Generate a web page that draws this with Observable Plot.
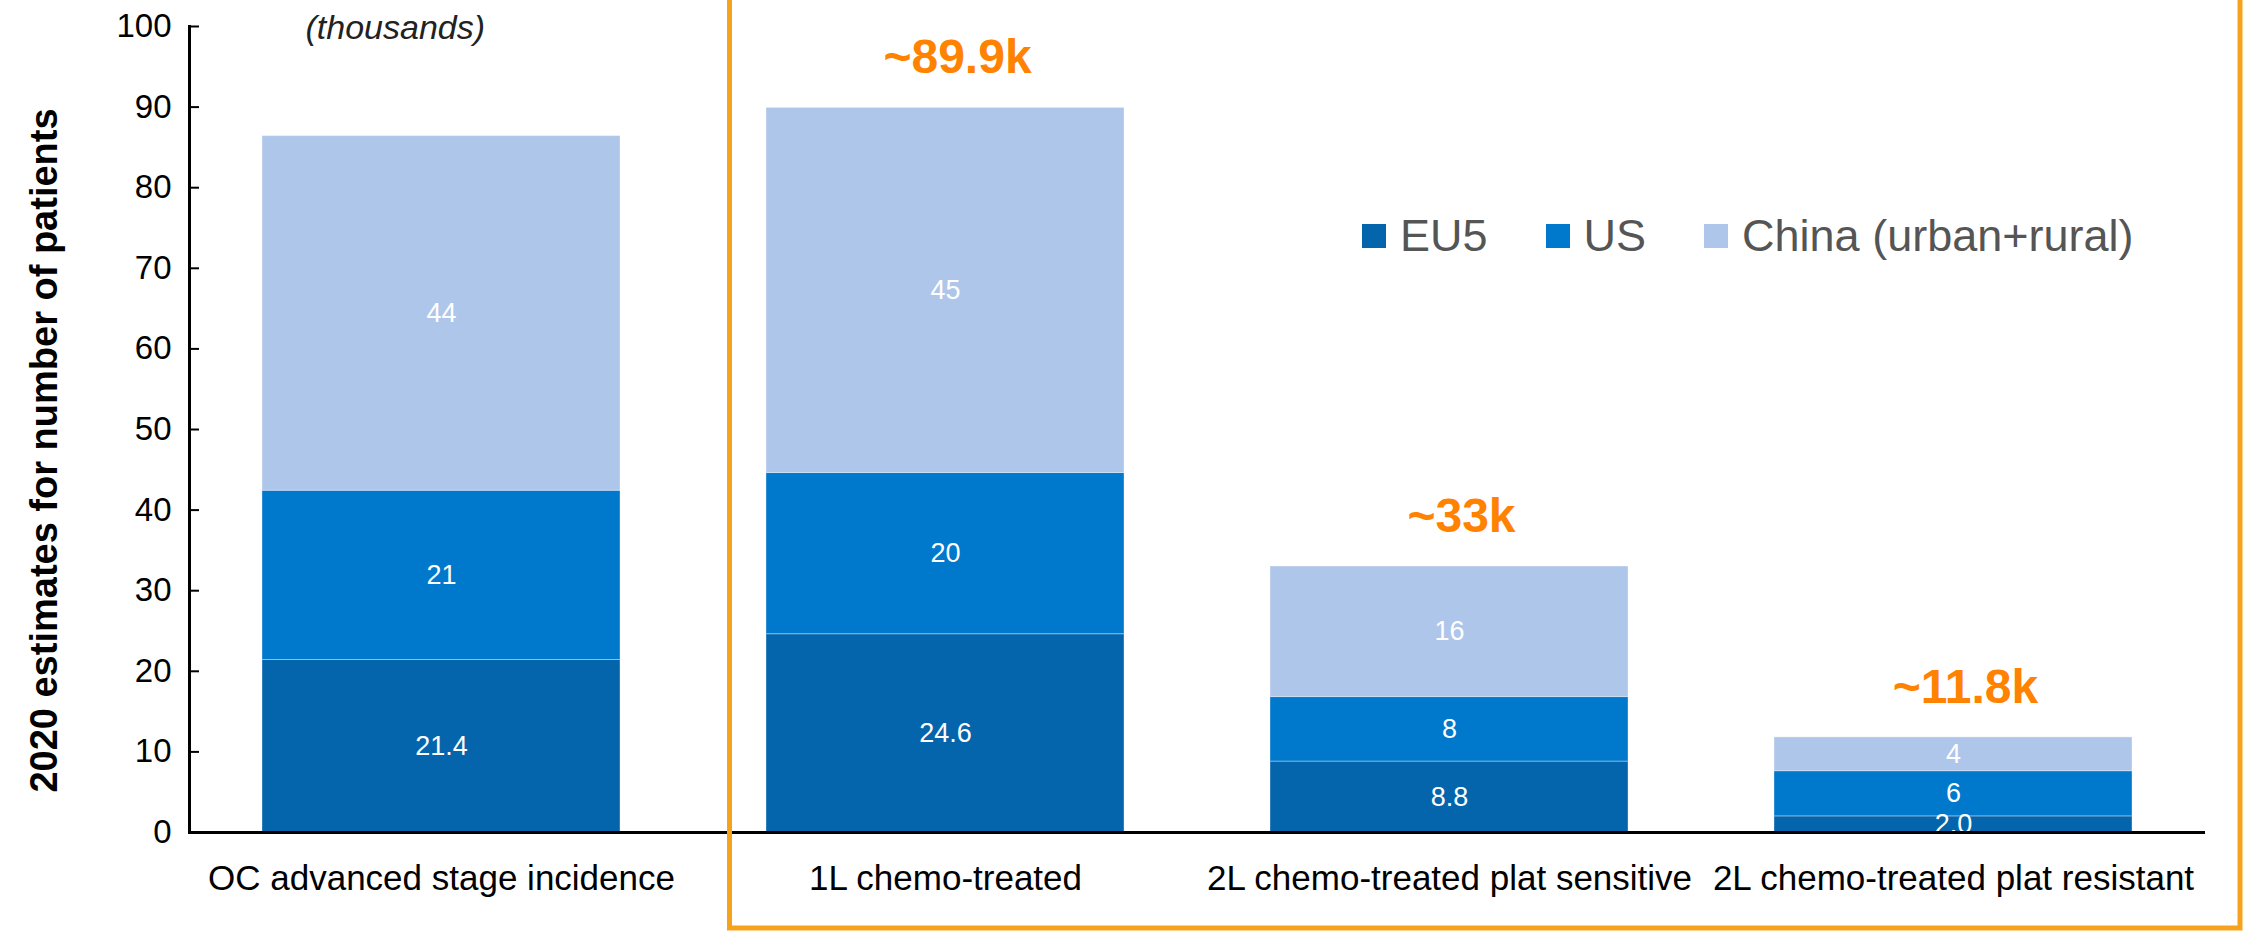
<!DOCTYPE html>
<html><head><meta charset="utf-8">
<script src="https://cdn.jsdelivr.net/npm/d3@7"></script>
<script src="https://cdn.jsdelivr.net/npm/@observablehq/plot@0.6"></script>
<style>
body{margin:0;background:#fff;}
#wrap{position:relative;width:2246px;height:931px;overflow:hidden;background:#fff;}
#legend{position:absolute;left:1362px;top:213px;white-space:nowrap;}
.lg-swatches{font-family:"Liberation Sans",Arial,sans-serif !important;font-size:45px !important;color:#555 !important;margin:0 !important;line-height:1 !important;}
.lg-swatches-wrap{flex-wrap:nowrap !important;}
.lg-swatch{margin-right:58px !important;}
.lg-swatch > svg{margin-right:14px !important;}
</style>
</head><body><div id="wrap"><div id="legend"></div></div>
<script>
const categories = ["OC advanced stage incidence", "1L chemo-treated", "2L chemo-treated plat sensitive", "2L chemo-treated plat resistant"];
const regions = ["EU5", "US", "China (urban+rural)"];
const colors = ["#0465AC", "#0078CC", "#AEC6EA"];
const eu5 = [21.4, 24.6, 8.8, 2.0];
const us = [21, 20, 8, 5.6];
const china = [44, 45.3, 16.2, 4.2];
const eu5Labels = ["21.4", "24.6", "8.8", "2.0"];
const usLabels = ["21", "20", "8", "6"];
const chinaLabels = ["44", "45", "16", "4"];
const totals = [86.4, 89.9, 33, 11.8];
const totalLabels = ["", "~89.9k", "~33k", "~11.8k"];
const yTicks = [0, 10, 20, 30, 40, 50, 60, 70, 80, 90, 100];

const rows = [];
categories.forEach((c, i) => {
  rows.push({cat: c, region: regions[0], value: eu5[i], label: eu5Labels[i]});
  rows.push({cat: c, region: regions[1], value: us[i], label: usLabels[i]});
  rows.push({cat: c, region: regions[2], value: china[i], label: chinaLabels[i]});
});
const totalRows = categories.map((c, i) => ({cat: c, total: totals[i], label: totalLabels[i]}));

const W = 2246, H = 931;
const plot = Plot.plot({
  width: W, height: H,
  marginTop: 26, marginBottom: 99, marginLeft: 189, marginRight: 41,
  style: {fontFamily: "'Liberation Sans', Arial, sans-serif", background: "#fff", overflow: "visible"},
  x: {domain: categories, paddingInner: 0.29, paddingOuter: 0.145, label: null},
  y: {domain: [0, 100], label: null},
  color: {domain: regions, range: colors},
  marks: [
    Plot.barY(rows, Plot.stackY({x: "cat", y: "value", fill: "region", stroke: "#fff", strokeOpacity: 0.35, strokeWidth: 1, order: regions})),
    Plot.text(rows, Plot.stackY({x: "cat", y: "value", z: "region", text: "label", order: regions, fill: "#fff", fontSize: 27, clip: true})),
    Plot.text(totalRows, {x: "cat", y: "total", text: "label", dy: -50, dx: 12, fill: "#FF8200", fontSize: 48, fontWeight: "bold"}),
    Plot.text(["(thousands)"], {frameAnchor: "top-left", dx: 116, dy: -12, textAnchor: "start", fontStyle: "italic", fontSize: 34, fill: "#222"}),
    Plot.text(["2020 estimates for number of patients"], {frameAnchor: "left", dx: -145, dy: 21, rotate: -90, textAnchor: "middle", lineAnchor: "middle", fontSize: 38, fontWeight: "bold", fill: "#000"}),
    Plot.axisY({ticks: yTicks, tickSize: 0, tickPadding: 18, fontSize: 33, fill: "#000", label: null}),
    Plot.axisY({ticks: yTicks, tickSize: 10, dx: 10, tickFormat: () => "", strokeWidth: 2, label: null}),
    Plot.axisX({tickSize: 0, tickPadding: 33, fontSize: 35, fill: "#000", label: null}),
    Plot.frame({anchor: "left", strokeWidth: 3}),
    Plot.ruleY([0], {strokeWidth: 3})
  ]
});

// orange highlight box around the treated groups, positioned from the x band scale
const xs = plot.scale("x");
const b1 = xs.apply(categories[0]) + xs.bandwidth;
const b2 = xs.apply(categories[1]);
const left = b2 - (b2 - b1) / 4;
d3.select(plot).append("rect")
  .attr("x", left).attr("y", -10)
  .attr("width", W - 6 - left).attr("height", H - 3 + 10)
  .attr("fill", "none").attr("stroke", "#F7A21B").attr("stroke-width", 5);

document.getElementById("wrap").prepend(plot);

const lg = Plot.legend({color: {domain: regions, range: colors}, legend: "swatches", swatchSize: 24, className: "lg"});
document.getElementById("legend").appendChild(lg);
</script>
</body></html>
